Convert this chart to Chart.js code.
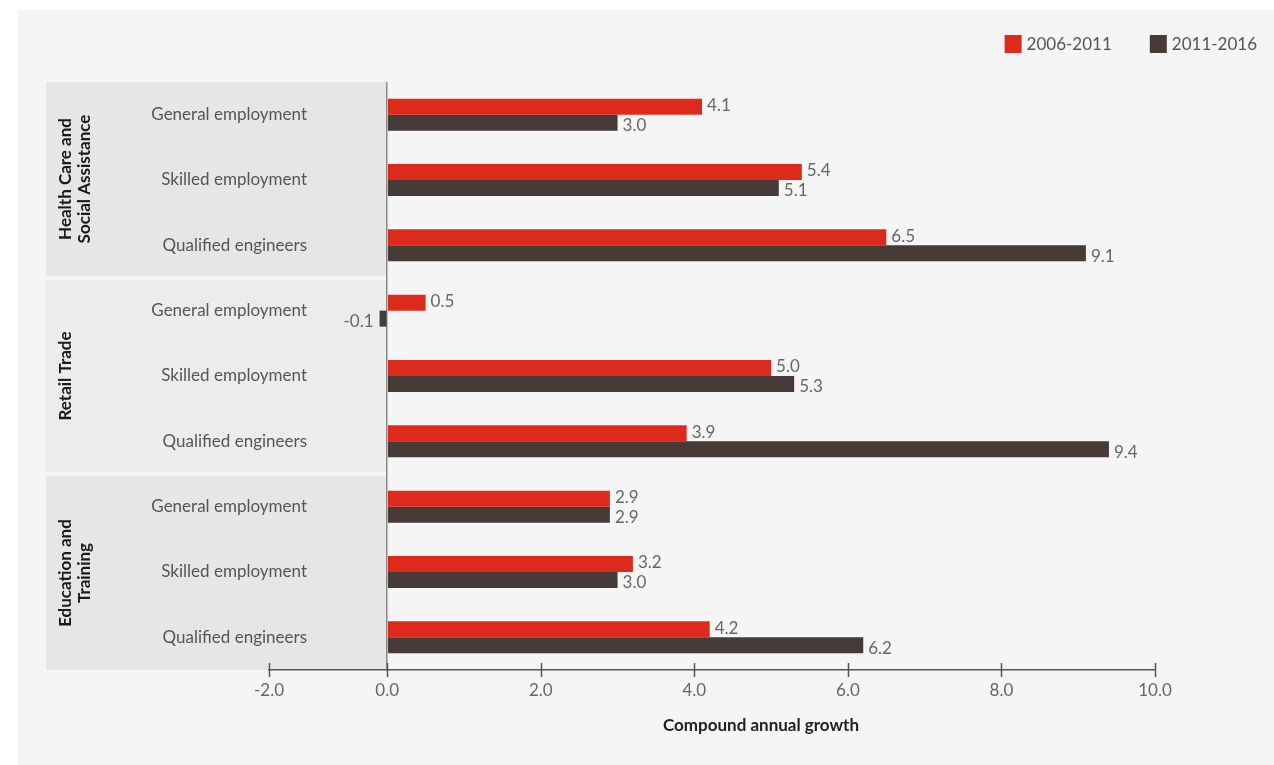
<!DOCTYPE html>
<html>
<head>
<meta charset="utf-8">
<script src="https://cdn.jsdelivr.net/npm/chart.js@4.4.1/dist/chart.umd.min.js"></script>
<style>
  html, body { margin: 0; padding: 0; background: #ffffff; }
  #chart { display: block; }
</style>
</head>
<body>
<canvas id="chart" width="1274" height="765"></canvas>
<script>
(() => {
  'use strict';

  // === Datos ===
  const groups   = [['Health Care and', 'Social Assistance'], ['Retail Trade'], ['Education and', 'Training']];
  const measures = ['General employment', 'Skilled employment', 'Qualified engineers'];
  const categories = groups.flatMap(() => measures);
  const periods  = ['2006-2011', '2011-2016'];
  const growth0611 = [4.1, 5.4, 6.5, 0.5, 5.0, 3.9, 2.9, 3.2, 4.2];
  const growth1116 = [3.0, 5.1, 9.1, -0.1, 5.3, 9.4, 2.9, 3.0, 6.2];
  // el eje del original empieza un poco antes de 0 y marca su borde izquierdo como -2.0
  const xMin = -1.54, xMax = 10;
  const xTickValues = [xMin, 0, 2, 4, 6, 8, 10];
  const xTickLabels = ['-2.0', '0.0', '2.0', '4.0', '6.0', '8.0', '10.0'];
  const xTitle = 'Compound annual growth';

  const RED  = '#dc2b1c';
  const DARK = '#463b37';
  const FONT = 'Lato, "Noto Sans", sans-serif';
  const bandColors = ['#e6e6e6', '#ececec', '#e6e6e6'];

  // Fondo, bandas de grupo y etiquetas de categoría
  const backdrop = {
    id: 'backdrop',
    beforeDraw(chart){
      const {ctx, scales:{x, y}} = chart;
      ctx.save();
      ctx.fillStyle = '#f5f5f5';
      ctx.fillRect(18, 10, chart.width - 18, chart.height - 10);

      const step = y.getPixelForValue(1) - y.getPixelForValue(0);
      const zeroX = x.getPixelForValue(0);
      groups.forEach((g, gi) => {
        const first = gi * measures.length;
        const last  = first + measures.length - 1;
        const top = y.getPixelForValue(first) - step/2 + (gi === 0 ? 0 : 2);
        const bot = y.getPixelForValue(last)  + step/2 - (gi === groups.length-1 ? 0 : 2);
        ctx.fillStyle = bandColors[gi];
        ctx.fillRect(46, top, zeroX - 1 - 46, bot - top);

        // etiqueta del grupo, girada
        const mid = (top + bot) / 2;
        ctx.save();
        ctx.translate(66, mid);
        ctx.rotate(-Math.PI/2);
        ctx.fillStyle = '#1a1a1a';
        ctx.font = `bold 17px ${FONT}`;
        ctx.textAlign = 'center';
        ctx.textBaseline = 'middle';
        g.forEach((line, li) => ctx.fillText(line, 0, li * 19));
        ctx.restore();
      });

      ctx.fillStyle = '#555';
      ctx.font = `17px ${FONT}`;
      ctx.textAlign = 'right';
      ctx.textBaseline = 'middle';
      categories.forEach((c, i) => ctx.fillText(c, 307, y.getPixelForValue(i)));
      ctx.restore();
    },
    afterDraw(chart){
      const {ctx, chartArea, scales:{x}} = chart;
      ctx.save();
      // marcas del eje que cruzan la línea
      ctx.strokeStyle = '#555';
      ctx.lineWidth = 1.5;
      x.ticks.forEach((t, i) => {
        const px = Math.round(x.getPixelForTick(i)) + 0.5;
        ctx.beginPath();
        ctx.moveTo(px, chartArea.bottom - 7);
        ctx.lineTo(px, chartArea.bottom + 7);
        ctx.stroke();
      });

      // título del eje (desplazado a la derecha como en el original)
      ctx.fillStyle = '#222';
      ctx.font = `bold 17px ${FONT}`;
      ctx.textAlign = 'center';
      ctx.textBaseline = 'middle';
      ctx.fillText(xTitle, 761, 726);

      // leyenda a la derecha
      ctx.font = `17px ${FONT}`;
      ctx.textBaseline = 'middle';
      ctx.textAlign = 'left';
      const colors = chart.data.datasets.map(d => d.backgroundColor);
      const right = 1257;
      const items = periods.map((p, i) => ({p, c: colors[i], w: 17 + 5 + ctx.measureText(p).width}));
      const totalW = items.reduce((s, it) => s + it.w, 0) + 38 * (items.length - 1);
      let lx = right - totalW;
      items.forEach(it => {
        ctx.fillStyle = it.c;
        ctx.fillRect(lx, 35, 17, 18);
        ctx.fillStyle = '#555';
        ctx.fillText(it.p, lx + 22, 45);
        lx += it.w + 38;
      });
      ctx.restore();
    },
    afterDatasetsDraw(chart){
      const {ctx} = chart;
      ctx.save();
      ctx.font = `17px ${FONT}`;
      ctx.fillStyle = '#666';
      ctx.textBaseline = 'middle';
      chart.data.datasets.forEach((ds, di) => {
        chart.getDatasetMeta(di).data.forEach((bar, j) => {
          const v = ds.data[j];
          const dy = di === 0 ? -1 : 3;
          if (v < 0){
            ctx.textAlign = 'right';
            ctx.fillText(v.toFixed(1), bar.x - 6, bar.y + dy);
          } else {
            ctx.textAlign = 'left';
            ctx.fillText(v.toFixed(1), bar.x + 5, bar.y + dy);
          }
        });
      });
      ctx.restore();
    }
  };

  new Chart(document.getElementById('chart').getContext('2d'), {
    type: 'bar',
    data: {
      labels: categories,
      datasets: [
        { label: periods[0], data: growth0611, backgroundColor: RED,  categoryPercentage: 0.49, barPercentage: 1.0 },
        { label: periods[1], data: growth1116, backgroundColor: DARK, categoryPercentage: 0.49, barPercentage: 1.0 }
      ]
    },
    options: {
      indexAxis: 'y',
      responsive: false,
      animation: false,
      layout: { padding: { left: 269, right: 119, top: 82, bottom: 0 } },
      plugins: { legend: { display: false }, tooltip: { enabled: false } },
      scales: {
        y: { display: false },
        x: {
          min: xMin, max: xMax,
          afterBuildTicks: s => { s.ticks = xTickValues.map(v => ({value: v})); },
          afterFit: s => { s.height = 95; },
          grid: {
            drawTicks: false,
            color: c => (c.tick && c.tick.value === 0) ? '#888' : 'rgba(0,0,0,0)',
            lineWidth: 1.5
          },
          border: { display: true, color: '#555', width: 1.5 },
          ticks: {
            padding: 10,
            color: '#666',
            font: { family: FONT, size: 17 },
            callback: (v, i) => xTickLabels[i]
          },
          title: { display: false }
        }
      }
    },
    plugins: [backdrop]
  });
})();
</script>
</body>
</html>
